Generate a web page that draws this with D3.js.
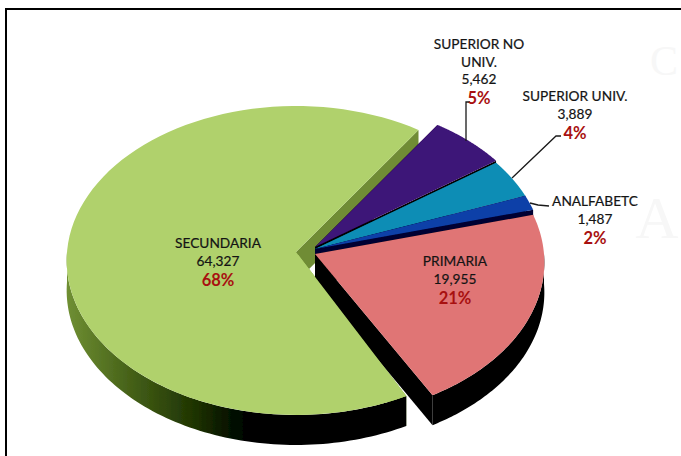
<!DOCTYPE html>
<html>
<head>
<meta charset="utf-8">
<script src="https://cdn.jsdelivr.net/npm/d3@7"></script>
<style>
  html, body { margin: 0; padding: 0; background: #fff; }
  svg { display: block; }
  text { font-family: Lato, "Open Sans", sans-serif; text-anchor: middle; }
</style>
</head>
<body>
<svg id="chart" width="681" height="456"></svg>
<script>
// Data
const categories = ['SUPERIOR NO UNIV.', 'SUPERIOR UNIV.', 'ANALFABETO', 'PRIMARIA', 'SECUNDARIA'];
const values = [5462, 3889, 1487, 19955, 64327];
const percents = ['5%', '4%', '2%', '21%', '68%'];

const faceColors = ['#3d1278', '#0f8db5', '#0b3fa8', '#e07575', '#b0d16c'];
const wallColors = ['#000000', '#04506a', '#000033', '#000000', 'url(#greenWall)'];
const cutColors = ['#000000', '#04506a', '#000033', '#000000', '#6f8c35'];

// where the slices got pulled to
const apexX = [315, 315, 315, 315, 296];
const apexY = [247, 249, 249, 254, 252];
// the perspective of the original bends the cuts a little, degrees
const startNudge = [0, 0, 0, 0, 2.2];
const endNudge = [0, 0, 0, 0.2, 0];

const width = 681;
const height = 456;
const depth = 30;
const radiusX = 229;
const radiusY = 154;
const tilt = 0.055; // perspective, near side looks bigger
const firstAngle = 34 * Math.PI / 180;

const svg = d3.select('#chart');

const defs = svg.append('defs');
const grad = defs.append('linearGradient')
  .attr('id', 'greenWall')
  .attr('gradientUnits', 'userSpaceOnUse')
  .attr('x1', 67).attr('x2', 250).attr('y1', 0).attr('y2', 0);
grad.append('stop').attr('offset', 0).attr('stop-color', '#6f8f33');
grad.append('stop').attr('offset', 0.4).attr('stop-color', '#3f5a14');
grad.append('stop').attr('offset', 0.7).attr('stop-color', '#1e3302');
grad.append('stop').attr('offset', 0.9).attr('stop-color', '#041000');
grad.append('stop').attr('offset', 1).attr('stop-color', '#000');

const soften = defs.append('filter').attr('id', 'soften');
soften.append('feGaussianBlur').attr('stdDeviation', 0.35);

defs.append('clipPath').attr('id', 'greenTip')
  .append('rect').attr('x', 290).attr('y', 255).attr('width', 125).attr('height', 150);

// Faint watermark letters behind the chart
svg.append('text').attr('x', 664).attr('y', 75)
  .attr('font-size', 42).attr('fill', '#f7f7f7')
  .style('font-family', '"Liberation Serif", serif').text('C');
svg.append('text').attr('x', 657).attr('y', 238)
  .attr('font-size', 60).attr('fill', '#f7f7f7')
  .style('font-family', '"Liberation Serif", serif').text('A');

// Frame, only left and top
svg.append('path')
  .attr('d', d3.line()([[6, height], [6, 9], [width, 9]]))
  .attr('fill', 'none')
  .attr('stroke', '#000')
  .attr('stroke-width', 2);

const pie = d3.pie()
  .sort(null)
  .startAngle(firstAngle)
  .endAngle(firstAngle + 2 * Math.PI);

const arcs = pie(values).map((d, i) => ({
  i,
  startAngle: d.startAngle + startNudge[i] * Math.PI / 180,
  endAngle: d.endAngle + endNudge[i] * Math.PI / 180
}));

// turn a point of the unit disc into screen coordinates
function project(i, radius, angle, drop) {
  const u = radius * Math.sin(angle);
  const v = -radius * Math.cos(angle);
  const w = 1 - tilt * v;
  return [apexX[i] + radiusX * u / w, apexY[i] + radiusY * v / w + drop];
}

function rimPoints(i, from, to, drop) {
  const angle = d3.scaleLinear().domain([0, 1]).range([from, to]);
  return d3.range(0, 1.0001, 1 / 90).map(t => project(i, 1, angle(t), drop));
}

const line = d3.line();

function facePath(d) {
  return line([project(d.i, 0, 0, 0), ...rimPoints(d.i, d.startAngle, d.endAngle, 0)]) + 'Z';
}

// only the near half of the rim is seen
function wallPath(d) {
  const from = Math.max(d.startAngle, Math.PI / 2);
  const to = Math.min(d.endAngle, 3 * Math.PI / 2);
  if (from >= to) return null;
  return line([...rimPoints(d.i, from, to, 0), ...rimPoints(d.i, from, to, depth).reverse()]) + 'Z';
}

function cutPath(d, angle) {
  return line([
    project(d.i, 0, 0, 0),
    project(d.i, 1, angle, 0),
    project(d.i, 1, angle, depth),
    project(d.i, 0, 0, depth)
  ]) + 'Z';
}

const pieGroup = svg.append('g').attr('filter', 'url(#soften)');

// Back to front: green first, then the small slices, primaria last
const order = [4, 0, 1, 2, 3];
order.forEach(i => {
  const d = arcs[i];
  pieGroup.append('path').attr('d', cutPath(d, d.startAngle)).attr('fill', cutColors[i]);
  pieGroup.append('path').attr('d', cutPath(d, d.endAngle)).attr('fill', cutColors[i]);
  pieGroup.append('path').attr('d', wallPath(d)).attr('fill', wallColors[i]);
  pieGroup.append('path').attr('d', facePath(d)).attr('fill', faceColors[i]);
});

// green tip sits in front of the primaria wall
pieGroup.append('path')
  .attr('d', facePath(arcs[4]))
  .attr('fill', faceColors[4])
  .attr('clip-path', 'url(#greenTip)');

// Leader lines
const leaders = [
  [[470, 102], [466, 102], [466, 141]],
  [[561, 136], [556, 136], [512, 178]],
  [[549, 206], [538, 205], [530, 203]]
];
svg.selectAll('.leader')
  .data(leaders)
  .enter()
  .append('path')
  .attr('class', 'leader')
  .attr('d', d => line(d))
  .attr('fill', 'none')
  .attr('stroke', '#1a1a1a')
  .attr('stroke-width', 1.3);

// Labels
const labelLines = [
  ['SUPERIOR NO', 'UNIV.'],
  ['SUPERIOR UNIV.'],
  ['ANALFABETC'],
  ['PRIMARIA'],
  ['SECUNDARIA']
];
const labelX = [479, 575, 595, 455, 218];
const labelTop = [49, 101, 206, 266, 248];

labelLines.forEach((rows, i) => {
  const g = svg.append('g').attr('fill', '#141414').attr('stroke', '#141414').attr('stroke-width', 0.2);
  rows.forEach((row, r) => {
    g.append('text').attr('x', labelX[i]).attr('y', labelTop[i] + r * 17.7)
      .attr('font-size', 13.7).text(row);
  });
  const next = labelTop[i] + rows.length * 17.7;
  g.append('text').attr('x', labelX[i]).attr('y', next)
    .attr('font-size', 13.7).text(d3.format(',')(values[i]));
  g.append('text').attr('x', labelX[i]).attr('y', next + 20)
    .attr('font-size', 16.5).attr('font-weight', 'bold')
    .attr('fill', '#a81010').attr('stroke', 'none').text(percents[i]);
});
</script>
</body>
</html>
